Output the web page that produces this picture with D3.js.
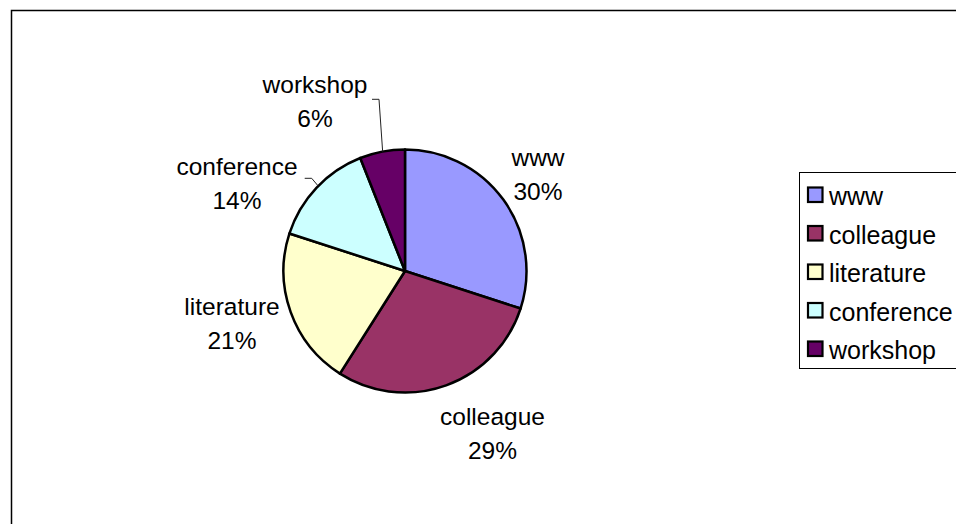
<!DOCTYPE html>
<html>
<head>
<meta charset="utf-8">
<script src="https://cdn.jsdelivr.net/npm/d3@7/dist/d3.min.js"></script>
<style>
  html, body { margin: 0; padding: 0; background: #fff; }
  svg { display: block; }
  text { font-family: "Liberation Sans", Arial, sans-serif; fill: #000; }
</style>
</head>
<body>
<svg id="chart" width="956" height="524"></svg>
<script>
// Source of information, share of responses
const categories = ["www", "colleague", "literature", "conference", "workshop"];
const shares = [30, 29, 21, 14, 6];
const colors = ["#9999FF", "#993366", "#FFFFCC", "#CCFFFF", "#660066"];

const W = 956, H = 524;
const svg = d3.select("#chart");

// Chart area frame (runs past the right and bottom of the view)
svg.append("rect")
  .attr("x", 11.5).attr("y", 10.5)
  .attr("width", 1000).attr("height", 600)
  .attr("fill", "#fff").attr("stroke", "#000").attr("stroke-width", 1.5);

const cx = 405, cy = 271, r = 121.5;
const g = svg.append("g").attr("transform", `translate(${cx},${cy})`);

const pie = d3.pie().sort(null).value(d => d.v);
const data = categories.map((c, i) => ({ c, v: shares[i], color: colors[i] }));
const arcs = pie(data);
const arc = d3.arc().innerRadius(0).outerRadius(r);

g.selectAll("path.slice")
  .data(arcs)
  .join("path")
  .attr("class", "slice")
  .attr("d", arc)
  .attr("fill", d => d.data.color)
  .attr("stroke", "#000")
  .attr("stroke-width", 2.5)
  .attr("stroke-linejoin", "round");

// Label placement around the pie (offsets from the pie centre)
const labelLayout = {
  www:        { dx: 133,  dy: -105 },
  colleague:  { dx: 87.5, dy: 154 },
  literature: { dx: -173, dy: 44 },
  conference: { dx: -168, dy: -96 },
  workshop:   { dx: -90,  dy: -178 }
};
// Leader lines: elbow point (from centre) and the angle where they meet the rim
const leaders = {
  workshop:   { ex: -26,   ey: -171.7, angle: 349.4 },
  conference: { ex: -93.3, ey: -92.7,  angle: 314.4 }
};
const lineGap = 33.5;
const fmt = d => Math.round(d.data.v / d3.sum(shares) * 100) + "%";

arcs.forEach(d => {
  const lay = labelLayout[d.data.c];
  const t = g.append("text")
    .attr("text-anchor", "middle")
    .attr("font-size", 24.5)
    .attr("x", lay.dx).attr("y", lay.dy);
  t.append("tspan").attr("x", lay.dx).attr("y", lay.dy).text(d.data.c);
  t.append("tspan").attr("x", lay.dx).attr("y", lay.dy + lineGap).text(fmt(d));

  const ld = leaders[d.data.c];
  if (ld) {
    const a = ld.angle * Math.PI / 180;
    const rim = [r * Math.sin(a), -r * Math.cos(a)];
    g.append("polyline")
      .attr("points", [[ld.ex - 7, ld.ey], [ld.ex, ld.ey], rim].map(p => p.join(",")).join(" "))
      .attr("fill", "none")
      .attr("stroke", "#222")
      .attr("stroke-width", 1);
  }
});

// Legend
const legend = svg.append("g");
legend.append("rect")
  .attr("x", 799.5).attr("y", 172.5)
  .attr("width", 200).attr("height", 196)
  .attr("fill", "#fff").attr("stroke", "#000").attr("stroke-width", 1);

const rowY = d3.scalePoint().domain(categories).range([205, 359]);
const rows = legend.selectAll("g.row")
  .data(data)
  .join("g")
  .attr("class", "row")
  .attr("transform", d => `translate(0,${rowY(d.c)})`);
rows.append("rect")
  .attr("x", 808).attr("y", -17.5)
  .attr("width", 14.5).attr("height", 14.5)
  .attr("fill", d => d.color)
  .attr("stroke", "#000").attr("stroke-width", 2.2);
rows.append("text")
  .attr("x", 829).attr("y", 0)
  .attr("font-size", 25)
  .text(d => d.c);
</script>
</body>
</html>
